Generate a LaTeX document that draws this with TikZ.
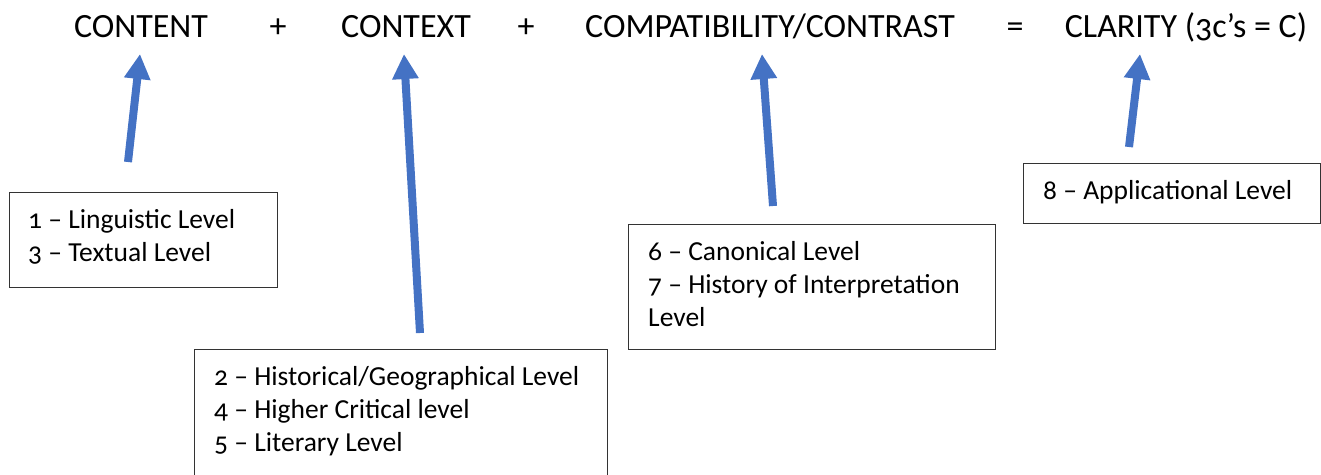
\documentclass[tikz,border=0pt]{standalone}
\usepackage{fontspec}
\setmainfont{Carlito}[Numbers=OldStyle]
\usetikzlibrary{arrows.meta}
\definecolor{arrowblue}{HTML}{4472C4}
\begin{document}
\begin{tikzpicture}[x=1pt,y=-1pt,
  term/.style={font=\fontsize{34}{40}\selectfont, anchor=base, inner sep=0pt},
  levelbox/.style={draw=black!80, line width=1.2pt, anchor=north west, inner sep=0pt},
  leveltext/.style={anchor=north west, inner sep=0pt, align=left,
    font=\fontsize{27.5}{33}\selectfont},
  uparrow/.style={draw=arrowblue, line width=8pt, -{Triangle[width=25pt,length=25pt]}}]
\useasboundingbox (0,0) rectangle (1321,474);

% equation across the top
\node[term] (content)  at (141,37)  {CONTENT};
\node[term] (plus1)    at (278,37)  {+};
\node[term] (context)  at (406,37)  {CONTEXT};
\node[term] (plus2)    at (526,37)  {+};
\node[term] (compat)   at (770,37)  {COMPATIBILITY/CONTRAST};
\node[term] (equals)   at (1015,37) {=};
\node[term] (clarity)  at (1186,37) {CLARITY (3c’s = C)};

% level boxes
\node[levelbox, minimum width=268, minimum height=95]  (box1) at (9,192) {};
\node[levelbox, minimum width=413, minimum height=130] (box2) at (194,349) {};
\node[levelbox, minimum width=367, minimum height=125] (box3) at (628,224) {};
\node[levelbox, minimum width=297, minimum height=60]  (box4) at (1023,163) {};

% their texts
\node[leveltext] (text1) at ([xshift=19pt,yshift=-13pt]box1.north west)
  {\strut 1 – Linguistic Level\\\strut 3 – Textual Level};
\node[leveltext] (text2) at ([xshift=20pt,yshift=-13pt]box2.north west)
  {\strut 2 – Historical/Geographical Level\\\strut 4 – Higher Critical level\\\strut 5 – Literary Level};
\node[leveltext] (text3) at ([xshift=20pt,yshift=-13pt]box3.north west)
  {\strut 6 – Canonical Level\\\strut 7 – History of Interpretation\\\strut Level};
\node[leveltext] (text4) at ([xshift=20pt,yshift=-13pt]box4.north west)
  {\strut 8 – Applicational Level};

% arrow ends
\coordinate (t1) at (128,162);  \coordinate (h1) at (140,54);
\coordinate (t2) at (420,333);  \coordinate (h2) at (404,54);
\coordinate (t3) at (773,206);  \coordinate (h3) at (762,54);
\coordinate (t4) at (1129,147); \coordinate (h4) at (1140,54);

\draw[uparrow] (t1) -- (h1);
\draw[uparrow] (t2) -- (h2);
\draw[uparrow] (t3) -- (h3);
\draw[uparrow] (t4) -- (h4);
\end{tikzpicture}
\end{document}
